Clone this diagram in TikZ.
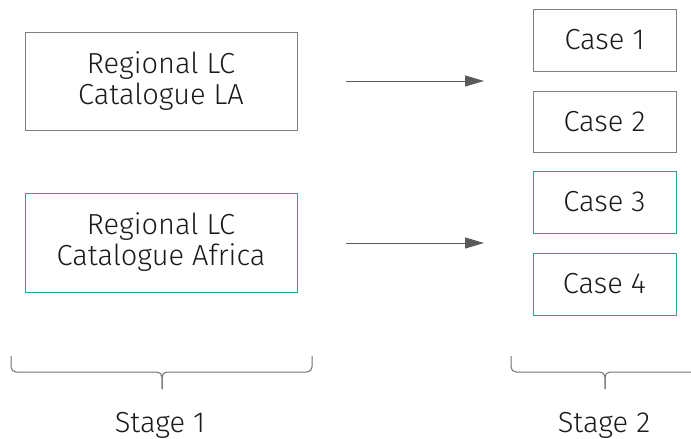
\documentclass[tikz,border=0pt]{standalone}
\usepackage{fontspec}
\setmainfont{Fira Sans}[UprightFont={* Light}]
\usetikzlibrary{arrows.meta}
\definecolor{boxgray}{RGB}{128,128,128}
\definecolor{teal2}{RGB}{40,166,140}
\definecolor{arrgray}{RGB}{90,90,90}
\definecolor{bracegray}{RGB}{112,112,112}
\definecolor{txt}{RGB}{26,26,26}
\tikzset{
  x=1pt,y=1pt,
  base/.style={draw, line width=1pt, inner sep=0pt, text=txt, align=center,
    font=\fontsize{29}{31}\selectfont},
  graybox/.style={base, draw=boxgray},
  tealbox/.style={base, draw=teal2},
  flow/.style={draw=arrgray, line width=1pt, -{Triangle[length=19pt,width=11pt]}},
  bracepath/.style={draw=bracegray, line width=1pt, rounded corners=5pt},
  stagelbl/.style={text=txt, font=\fontsize{29}{31}\selectfont, inner sep=0pt, anchor=base}
}
\begin{document}
\begin{tikzpicture}
\useasboundingbox (0,0) rectangle (691,-439);
\node[graybox, minimum width=272pt, minimum height=98pt] (b1) at (161,-81) {Regional LC\\Catalogue LA};
\node[tealbox, minimum width=272pt, minimum height=99pt] (b2) at (161,-242.5) {Regional LC\\Catalogue Africa};
\node[graybox, minimum width=143pt, minimum height=62pt] (c1) at (604.5,-40) {Case 1};
\node[graybox, minimum width=143pt, minimum height=61pt] (c2) at (604.5,-121.5) {Case 2};
\node[tealbox, minimum width=143pt, minimum height=62pt] (c3) at (604.5,-202) {Case 3};
\node[tealbox, minimum width=143pt, minimum height=62pt] (c4) at (604.5,-284) {Case 4};
\coordinate (a1s) at (346,-81);
\coordinate (a1e) at (484,-81);
\coordinate (a2s) at (346,-243);
\coordinate (a2e) at (484,-243);
\draw[flow] (a1s) -- (a1e);
\draw[flow] (a2s) -- (a2e);
% brace 1
\coordinate (l1) at (11,-356);
\coordinate (r1) at (312,-356);
\coordinate (m1) at (162,-372);
\coordinate (t1) at (162,-389);
\draw[bracepath] (l1) |- (m1) -- (t1);
\draw[bracepath] (r1) |- (m1) -- (t1);
% brace 2
\coordinate (l2) at (511,-356);
\coordinate (r2) at (698,-356);
\coordinate (m2) at (605,-372);
\coordinate (t2) at (605,-389);
\draw[bracepath] (l2) |- (m2) -- (t2);
\draw[bracepath] (r2) |- (m2) -- (t2);
\node[stagelbl] (s1) at (160,-432) {Stage 1};
\node[stagelbl] (s2) at (604,-432) {Stage 2};
\end{tikzpicture}
\end{document}
